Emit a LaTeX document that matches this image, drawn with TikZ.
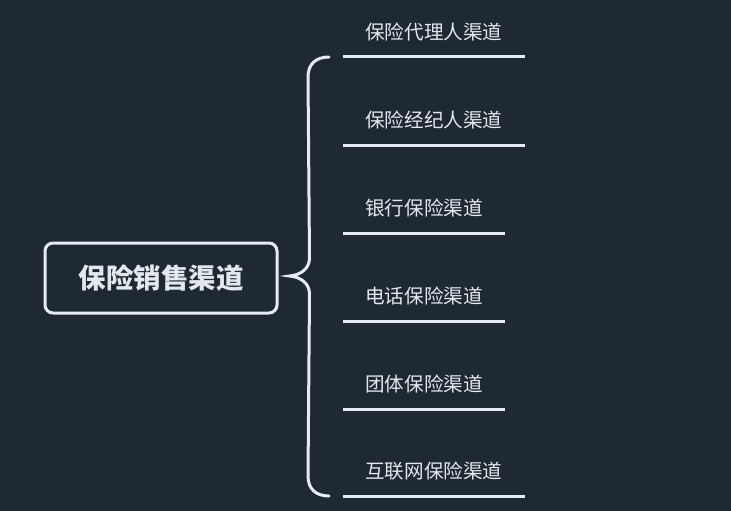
\documentclass[tikz,border=0pt]{standalone}
\usepackage{fontspec}
\setmainfont{Noto Sans CJK SC}
\usepackage{xcolor}
\usetikzlibrary{positioning, calc}
\definecolor{bgdark}{HTML}{1F2933}
\definecolor{linelight}{HTML}{E4EDF6}
\definecolor{textlight}{HTML}{E2E8EE}

\begin{document}
\begin{tikzpicture}[
    x=1pt, y=-1pt,
    root/.style={
        draw=linelight,
        rounded corners=8pt,
        line width=3pt,
        minimum width=232pt,
        minimum height=70pt,
        text=textlight,
        font=\fontsize{27.5pt}{30pt}\selectfont\bfseries
    },
    channel/.style={
        anchor=south west,
        inner xsep=22pt,
        inner ysep=17pt,
        text height=14pt,
        text depth=0pt,
        text=textlight,
        font=\fontsize{19.6pt}{22pt}\selectfont
    },
    underline/.style={
        draw=linelight,
        line width=3pt
    },
    brace/.style={
        draw=linelight,
        line width=3pt,
        line cap=round
    }
]

% Background
\fill [bgdark] (0,0) rectangle (731,511);
\useasboundingbox (0,0) rectangle (731,511);

% Root
\node (sales) [root] at (161,278) {保险销售渠道};

% Channels
\node (agent) [channel] at (343,57) {保险代理人渠道};
\node (broker) [channel] at (343,145) {保险经纪人渠道};
\node (bank) [channel] at (343,233) {银行保险渠道};
\node (phone) [channel] at (343,321) {电话保险渠道};
\node (group) [channel] at (343,409) {团体保险渠道};
\node (web) [channel] at (343,496) {互联网保险渠道};

% Underlines
\foreach \n in {agent, broker, bank, phone, group, web}
    \draw [underline] (\n.south west) -- (\n.south east);

% Brace from root to channels
\coordinate (top) at ($(agent.south west)+(-14,0)$);
\coordinate (bot) at ($(web.south west)+(-14,0)$);
\coordinate (tip) at ($(sales.east)+(11,-2)$);
\draw [brace] (top) .. controls ($(top)+(-13,0)$) and ($(top)+(-21,7)$) .. ($(top)+(-21,20)$)
    -- ($(tip)+(20,-18)$)
    .. controls ($(tip)+(20,-8)$) and ($(tip)+(12,-1)$) .. (tip)
    .. controls ($(tip)+(12,1)$) and ($(tip)+(20,8)$) .. ($(tip)+(20,18)$)
    -- ($(bot)+(-21,-20)$)
    .. controls ($(bot)+(-21,-7)$) and ($(bot)+(-13,0)$) .. (bot);

\end{tikzpicture}
\end{document}
